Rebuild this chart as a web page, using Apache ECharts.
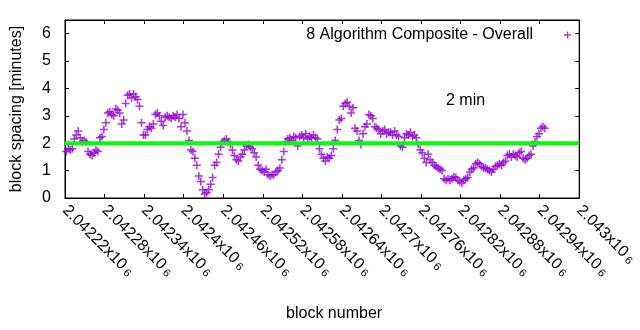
<!DOCTYPE html>
<html>
<head>
<meta charset="utf-8">
<script src="https://cdn.jsdelivr.net/npm/echarts@6/dist/echarts.min.js"></script>
<style>
  html, body { margin: 0; padding: 0; background: #ffffff; }
  #chart { width: 640px; height: 330px; }
</style>
</head>
<body>
<div id="chart"></div>
<script>
// Block-spacing series: one sample every blockStep blocks, starting at firstBlock.
const seriesName = '8 Algorithm Composite - Overall';
const firstBlock = 2042222;
const blockStep = 3;
const spacingMinutes = [
  1.7, 1.8, 1.75, 1.8, 2.15, 2.3, 2.45, 2.2, 2.05, 2.1,
  2.05, 1.7, 1.6, 1.55, 1.65, 1.75, 1.7, 2.2, 2.25, 2.5,
  2.75, 3.1, 3.15, 3.05, 3.0, 3.25, 3.2, 3.1, 2.7, 2.85,
  3.45, 3.75, 3.8, 3.65, 3.8, 3.7, 3.6, 3.35, 2.75, 2.3,
  2.3, 2.5, 2.6, 2.55, 2.7, 3.05, 3.1, 3.0, 2.8, 2.65,
  2.95, 3.0, 2.95, 2.9, 3.0, 2.95, 3.05, 2.9, 2.6, 3.05,
  2.75, 2.45, 2.1, 1.75, 1.7, 1.45, 1.2, 0.8, 0.6, 0.3,
  0.15, 0.2, 0.3, 0.5, 0.75, 1.2, 1.3, 1.6, 1.85, 2.05,
  2.1, 2.15, 2.05, 1.95, 1.75, 1.55, 1.4, 1.35, 1.5, 1.6,
  1.75, 1.9, 1.95, 1.85, 1.8, 1.65, 1.5, 1.2, 1.05, 1.0,
  0.95, 1.05, 0.85, 0.8, 0.85, 0.85, 0.95, 1.0, 1.1, 1.4,
  1.7, 2.05, 2.15, 2.2, 2.1, 2.25, 2.2, 1.9, 2.25, 2.3,
  2.2, 2.35, 2.15, 2.25, 2.2, 2.3, 2.2, 2.15, 1.8, 1.6,
  1.45, 1.35, 1.5, 1.45, 1.55, 1.8, 2.1, 2.5, 2.85, 2.9,
  3.35, 3.45, 3.5, 3.35, 3.1, 3.3, 2.55, 2.45, 2.1, 1.95,
  2.35, 2.6, 2.7, 3.05, 3.0, 2.9, 2.6, 2.55, 2.5, 2.35,
  2.45, 2.5, 2.35, 2.4, 2.4, 2.3, 2.45, 2.3, 2.25, 1.9,
  1.85, 2.2, 2.35, 2.3, 2.4, 2.25, 2.3, 2.2, 1.95, 1.75,
  1.65, 1.45, 1.3, 1.6, 1.4, 1.3, 1.2, 1.15, 1.1, 1.05,
  1.0, 0.7, 0.65, 0.7, 0.65, 0.7, 0.78, 0.75, 0.65, 0.6,
  0.55, 0.65, 0.7, 0.75, 0.95, 1.05, 1.1, 1.25, 1.3, 1.25,
  1.15, 1.1, 1.1, 1.05, 1.0, 0.95, 1.05, 1.15, 1.2, 1.25,
  1.2, 1.3, 1.35, 1.55, 1.6, 1.5, 1.6, 1.55, 1.5, 1.65,
  1.7, 1.45, 1.4, 1.45, 1.55, 1.6, 1.9, 2.05, 2.25, 2.35,
  2.55, 2.6, 2.55
];

// Reference level and its caption.
const targetMinutes = 2;
const targetCaption = '2 min';

// Axis ranges and tick steps.
const blockMin = 2042220;
const blockMax = 2043000;
const blockTickStep = 60;
const minutesMin = 0;
const minutesMax = 6.5;
const minutesTickStep = 1;
const xAxisTitle = 'block number';
const yAxisTitle = 'block spacing [minutes]';

const FONT = 'Liberation Sans, Arial, sans-serif';
const FS = 16;
const PURPLE = '#9400d3';
// Plus-shaped marker drawn as a filled outline on an 8x8 box.
const PLUS = 'path://M3.25,0h1.5v3.25h3.25v1.5h-3.25v3.25h-1.5v-3.25h-3.25v-1.5h3.25z';

const points = spacingMinutes.map((v, i) => [firstBlock + i * blockStep, v]);
const targetLine = [[blockMin, targetMinutes], [blockMax, targetMinutes]];

function blockLabel(v) {
  const mant = parseFloat((v / 1e6).toFixed(6)).toString();
  return '{m|' + mant + 'x10}{s| 6}';
}

const tickStyle = { show: true, inside: true, length: 4, lineStyle: { color: '#000', width: 1 } };
const lineStyle = { show: true, onZero: false, lineStyle: { color: '#000', width: 1 } };

const chart = echarts.init(document.getElementById('chart'), null, { renderer: 'canvas' });
chart.setOption({
  animation: false,
  backgroundColor: '#ffffff',
  textStyle: { fontFamily: FONT },
  grid: { left: 65, right: 31, top: 20, bottom: 132, show: true, borderColor: '#000', borderWidth: 1 },
  legend: {
    data: [{ name: seriesName, icon: PLUS }],
    right: 64,
    top: 22,
    align: 'right',
    itemWidth: 7,
    itemHeight: 7,
    selectedMode: false,
    textStyle: { fontFamily: FONT, fontSize: FS, color: '#000', padding: [0, 26, 0, 0] }
  },
  xAxis: [
    {
      type: 'value', min: blockMin, max: blockMax, interval: blockTickStep, position: 'bottom',
      axisLine: lineStyle, axisTick: tickStyle, splitLine: { show: false },
      name: xAxisTitle, nameLocation: 'middle', nameGap: 108,
      nameTextStyle: { fontFamily: FONT, fontSize: FS, color: '#000', padding: [0, 0, 0, 24] },
      axisLabel: {
        rotate: -45, margin: 10, interval: 0, showMinLabel: true, showMaxLabel: true,
        hideOverlap: false, align: 'left', color: '#000',
        formatter: blockLabel,
        rich: {
          m: { fontFamily: FONT, fontSize: FS, color: '#000' },
          s: { fontFamily: FONT, fontSize: 11, color: '#000', verticalAlign: 'bottom' }
        }
      }
    },
    {
      type: 'value', min: blockMin, max: blockMax, interval: blockTickStep, position: 'top',
      axisLine: lineStyle, axisTick: tickStyle, splitLine: { show: false }, axisLabel: { show: false }
    }
  ],
  yAxis: [
    {
      type: 'value', min: minutesMin, max: minutesMax, interval: minutesTickStep, position: 'left',
      axisLine: lineStyle, axisTick: tickStyle, splitLine: { show: false },
      axisLabel: { margin: 14, color: '#000', fontFamily: FONT, fontSize: FS, showMaxLabel: false },
      name: yAxisTitle, nameLocation: 'middle', nameGap: 40,
      nameTextStyle: { fontFamily: FONT, fontSize: FS, color: '#000' }
    },
    {
      type: 'value', min: minutesMin, max: minutesMax, interval: minutesTickStep, position: 'right',
      axisLine: lineStyle, axisTick: tickStyle, splitLine: { show: false }, axisLabel: { show: false }
    }
  ],
  series: [
    {
      name: seriesName,
      type: 'scatter',
      data: points,
      symbol: PLUS,
      symbolSize: 8,
      itemStyle: { color: PURPLE },
      emphasis: { disabled: true },
      z: 2
    },
    {
      name: 'target',
      type: 'line',
      data: targetLine,
      showSymbol: false,
      symbol: 'none',
      lineStyle: { color: '#00ff00', width: 4 },
      emphasis: { disabled: true },
      z: 3
    }
  ],
  graphic: [
    {
      type: 'text', left: 446, top: 93, z: 10,
      style: { text: targetCaption, font: FS + 'px ' + FONT, fill: '#000' }
    }
  ]
});
</script>
</body>
</html>
